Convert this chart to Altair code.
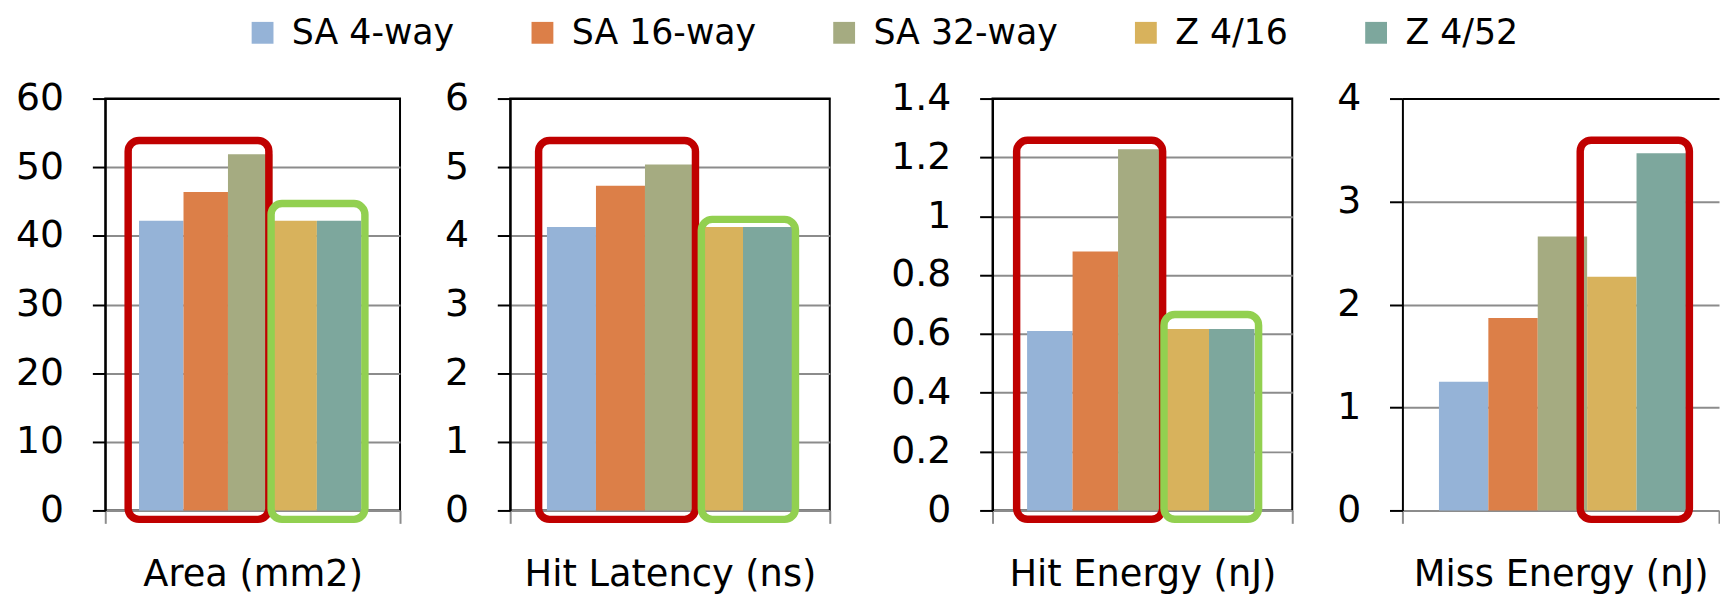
import altair as alt
import pandas as pd

FONT = "DejaVu Sans"

# ---- data ----
series = ["SA 4-way", "SA 16-way", "SA 32-way", "Z 4/16", "Z 4/52"]
colors = ["#95B3D7", "#DC7F48", "#A5AB81", "#D8B25C", "#7DA79D"]

metrics = ["Area (mm2)", "Hit Latency (ns)", "Hit Energy (nJ)", "Miss Energy (nJ)"]
area = [42.2, 46.4, 51.9, 42.2, 42.2]
hit_latency = [4.13, 4.73, 5.04, 4.13, 4.13]
hit_energy = [0.61, 0.88, 1.228, 0.617, 0.617]
miss_energy = [1.25, 1.87, 2.66, 2.27, 3.47]
panel_values = [area, hit_latency, hit_energy, miss_energy]

y_max = [60, 6, 1.4, 4]
y_ticks = [
    [0, 10, 20, 30, 40, 50, 60],
    [0, 1, 2, 3, 4, 5, 6],
    [0, 0.2, 0.4, 0.6, 0.8, 1, 1.2, 1.4],
    [0, 1, 2, 3, 4],
]

# highlight boxes (x in bar-slot units, y in data units)
box_panel = [0, 0, 1, 1, 2, 2, 3]
box_color = ["#C00000", "#92D050", "#C00000", "#92D050", "#C00000", "#92D050", "#C00000"]
box_x0 = [-0.245, 2.97, -0.17, 3.15, -0.23, 3.01, 2.86]
box_x1 = [2.92, 5.08, 3.03, 5.07, 2.98, 5.09, 5.07]
box_y0 = [-1.3, -1.3, -0.13, -0.13, -0.03, -0.03, -0.087]
box_y1 = [53.9, 44.7, 5.39, 4.24, 1.258, 0.666, 3.595]

# ---- layout ----
x_min = [-0.76, -0.75, -0.76, -0.74]
x_max = [5.87, 5.77, 5.83, 5.67]
panel_w = [297, 322, 302, 319]
axis_extent = [92, 108, 161, 109]
PLOT_H = 415


def make_panel(i):
    vals = panel_values[i]
    df = pd.DataFrame({
        "series": series,
        "value": vals,
        "start": list(range(len(series))),
        "end": [k + 1 for k in range(len(series))],
    })
    sel = [j for j, p in enumerate(box_panel) if p == i]
    bdf = pd.DataFrame({
        "x0": [box_x0[j] for j in sel],
        "x1": [box_x1[j] for j in sel],
        "y0": [box_y0[j] for j in sel],
        "y1": [box_y1[j] for j in sel],
        "c": [box_color[j] for j in sel],
    })

    xscale = alt.Scale(domain=[x_min[i], x_max[i]], nice=False, zero=False)
    xaxis = alt.Axis(
        values=[x_min[i], x_max[i]], labels=False, domain=False, grid=False,
        ticks=True, tickColor="#8c8c8c", tickSize=13, tickWidth=2,
        title=metrics[i], titleFontSize=37, titlePadding=33, titleFont=FONT,
        titleColor="black", titleFontWeight="normal",
    )
    yscale = alt.Scale(domain=[0, y_max[i]], nice=False, zero=True)
    yaxis = alt.Axis(
        values=y_ticks[i], format="~r", title=None,
        labelFont=FONT, labelFontSize=38, labelColor="black", labelPadding=29,
        tickColor="black", tickSize=13, tickWidth=2,
        domainColor="black", domainWidth=2,
        grid=True, gridWidth=2,
        gridColor={"condition": {"test": "datum.index === 1", "value": "black"}, "value": "#8c8c8c"},
        minExtent=axis_extent[i], maxExtent=axis_extent[i],
    )
    legend = alt.Legend(
        orient="none", legendX=141, legendY=-84, direction="horizontal",
        columns=5, title=None,
    )
    bars = alt.Chart(df).mark_rect().encode(
        x=alt.X("start:Q", scale=xscale, axis=xaxis),
        x2="end:Q",
        y=alt.Y("value:Q", scale=yscale, axis=yaxis),
        y2=alt.datum(0),
        color=alt.Color("series:N", scale=alt.Scale(domain=series, range=colors),
                        sort=series, legend=legend),
    )
    boxes = alt.Chart(bdf).mark_rect(fillOpacity=0, strokeWidth=7.5, cornerRadius=11).encode(
        x=alt.X("x0:Q", scale=xscale, axis=xaxis),
        x2="x1:Q",
        y=alt.Y("y0:Q", scale=yscale, axis=yaxis),
        y2="y1:Q",
        stroke=alt.Stroke("c:N", scale=None),
    )
    layer = alt.layer(bars, boxes)
    if i == 3:
        return layer.properties(width=panel_w[i], height=PLOT_H,
                                view=alt.ViewBackground(strokeOpacity=0))
    return layer.properties(width=panel_w[i], height=PLOT_H)


panels = [make_panel(i) for i in range(4)]

chart = (
    alt.hconcat(*panels, spacing=0)
    .resolve_scale(x="independent", y="independent")
    .properties(padding={"left": 5, "top": 5, "right": 0, "bottom": 5}, background="white")
    .configure_view(stroke="black", strokeWidth=2)
    .configure_legend(
        labelFont=FONT, labelFontSize=35, labelColor="black", labelLimit=500,
        symbolType="square", symbolSize=484, symbolStrokeWidth=0, symbolOpacity=1,
        labelOffset=12, columnPadding=71, padding=0,
    )
)

chart.save("out.html", embed_options={"renderer": "svg", "actions": False})
